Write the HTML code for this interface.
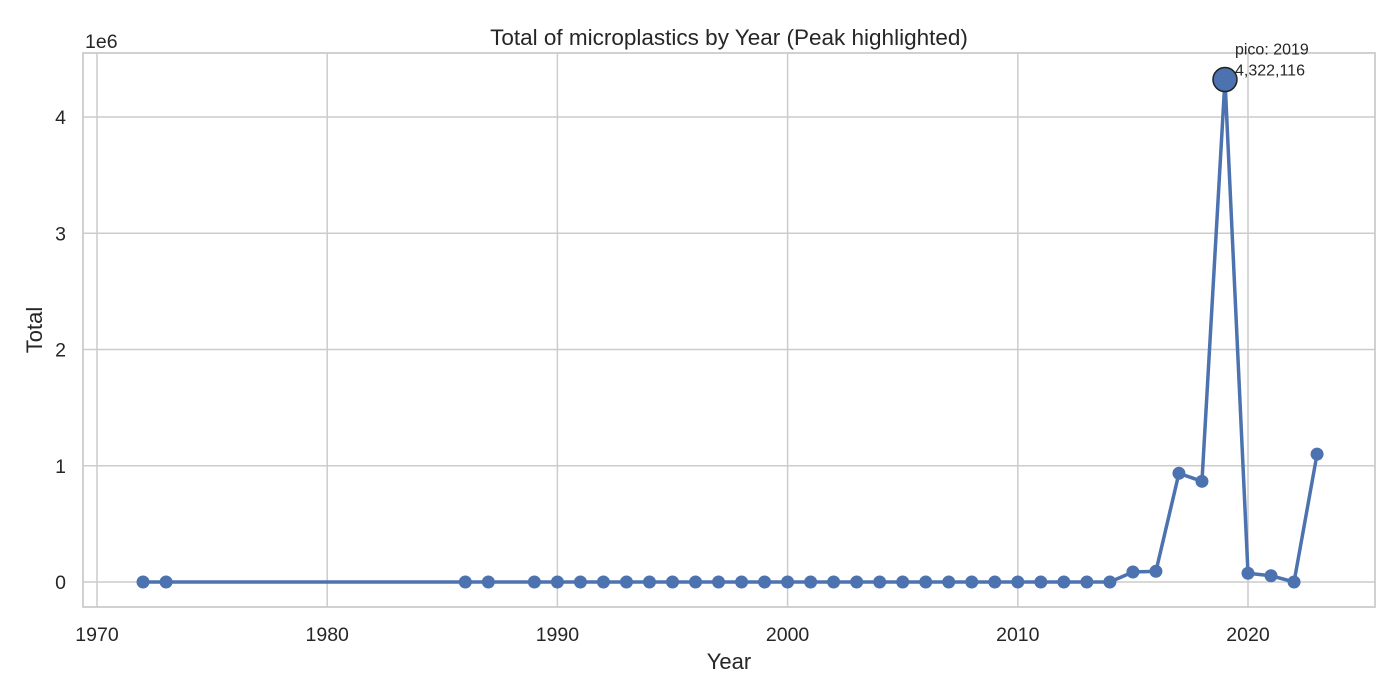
<!DOCTYPE html>
<html><head><meta charset="utf-8"><style>
html,body{margin:0;padding:0;background:#fff;}
svg{display:block;font-family:"Liberation Sans","DejaVu Sans",sans-serif;}
</style></head><body>
<svg id="chart" width="1400" height="700">
<rect width="1400" height="700" fill="#fff"/>
<g id="grid"></g>
<rect x="83" y="53" width="1292" height="554" fill="none" stroke="#cccccc" stroke-width="1.8"/>
<g id="ticks"></g>
<g id="series"></g>
<text x="729" y="45" text-anchor="middle" font-size="22.5" fill="#262626">Total of microplastics by Year (Peak highlighted)</text>
<text x="729" y="669" text-anchor="middle" font-size="22" fill="#262626">Year</text>
<text transform="translate(42,330) rotate(-90)" text-anchor="middle" font-size="22" fill="#262626">Total</text>
<text x="85" y="48" font-size="19.5" fill="#262626">1e6</text>
</svg>
<script>
const years=[1972,1973,1986,1987,1989,1990,1991,1992,1993,1994,1995,1996,1997,1998,1999,2000,2001,2002,2003,2004,2005,2006,2007,2008,2009,2010,2011,2012,2013,2014,2015,2016,2017,2018,2019,2020,2021,2022,2023];
const totals=[0,0,0,0,0,0,0,0,0,0,0,0,0,0,0,0,0,0,0,0,0,0,0,0,0,0,0,0,0,0,86000,92000,935000,866000,4322116,75000,54000,0,1100000];
const xTicks=[1970,1980,1990,2000,2010,2020];
const yTicks=[0,1,2,3,4];
const NS="http://www.w3.org/2000/svg";
const X=v=>97+(v-1970)*(1248-97)/50;
const Y=v=>582-v*116.25/1e6;
function mk(t,a,p){const e=document.createElementNS(NS,t);for(const k in a)e.setAttribute(k,a[k]);p.appendChild(e);return e;}
const grid=document.getElementById('grid'),ticks=document.getElementById('ticks'),series=document.getElementById('series');
xTicks.forEach(t=>{
 const l=mk('line',{x1:X(t),x2:X(t),y1:53,y2:607,stroke:'#cccccc','stroke-width':1.5},grid);
 
 
 const tx=mk('text',{x:X(t),y:641,'text-anchor':'middle','font-size':19.5,fill:'#262626'},ticks);
 tx.textContent=t;
 
 
});
yTicks.forEach(t=>{
 const y=Y(t*1e6);
 const l=mk('line',{x1:83,x2:1375,y1:y,y2:y,stroke:'#cccccc','stroke-width':1.5},grid);
 
 
 const tx=mk('text',{x:66,y:y+7,'text-anchor':'end','font-size':19.5,fill:'#262626'},ticks);
 tx.textContent=t;
 
 
});
const pts=years.map((y,i)=>X(y)+','+Y(totals[i])).join(' ');
const pl=mk('polyline',{points:pts,fill:'none',stroke:'#4c72b0','stroke-width':3.5,'stroke-linejoin':'round'},series);


years.forEach((y,i)=>{
 const c=mk('circle',{cx:X(y),cy:Y(totals[i]),r:6.5,fill:'#4c72b0'},series);
 
 
});
let pk=0;totals.forEach((v,i)=>{if(v>totals[pk])pk=i;});
const pc=mk('circle',{cx:X(years[pk]),cy:Y(totals[pk]),r:12,fill:'#4c72b0',stroke:'#222','stroke-width':1.5},series);


const a1=mk('text',{x:X(years[pk])+10,y:Y(totals[pk])-25,'font-size':16,fill:'#262626'},series);
a1.textContent='pico: '+years[pk];


const a2=mk('text',{x:X(years[pk])+10,y:Y(totals[pk])-4,'font-size':16,fill:'#262626'},series);
a2.textContent=totals[pk].toLocaleString('en-US');


</script>
</body></html>
